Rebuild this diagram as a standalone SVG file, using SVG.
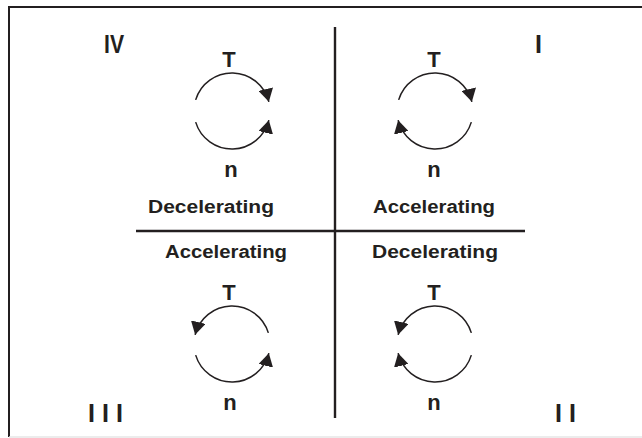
<svg xmlns="http://www.w3.org/2000/svg" width="642" height="438" viewBox="0 0 642 438">
<style>
.t{font-family:"Liberation Sans",Arial,sans-serif;font-weight:bold;fill:#231f20}
.lbl{font-size:17.5px;text-anchor:middle}
.tn{font-size:22px;text-anchor:middle}
.rn{font-size:25px}
.arc{fill:none;stroke:#231f20;stroke-width:1.5}
.div{stroke:#231f20;stroke-width:2.4}
</style>
<defs>
<marker id="ah" markerUnits="userSpaceOnUse" markerWidth="13" markerHeight="15" viewBox="0 0 13 15" refX="13" refY="7.5" orient="auto">
<path d="M0,0 L13,7.5 L0,15 z" fill="#231f20"/>
</marker>
</defs>
<rect width="642" height="438" fill="#fff"/>
<g id="frame">
<path d="M9,7 H642 M9,6 V437" stroke="#231f20" stroke-width="2" fill="none"/>
<path d="M9,437 H642" stroke="#e6e6e6" stroke-width="1.5"/>
</g>
<g id="connectors">
<line class="div" x1="335" y1="27" x2="335" y2="418"/>
<line class="div" x1="136" y1="231" x2="525" y2="231"/>
</g>
<g id="q4">
<text class="t rn" x="104" y="53" textLength="20" lengthAdjust="spacingAndGlyphs">IV</text>
<text class="t tn" x="229" y="67">T</text>
<path class="arc" d="M195.66,99.89 A38,38 0 0 1 268.87,101.81" marker-end="url(#ah)"/>
<path class="arc" d="M195.66,122.11 A38,38 0 0 0 268.87,120.19" marker-end="url(#ah)"/>
<text class="t tn" x="231" y="177">n</text>
<text class="t lbl" x="211" y="213" textLength="126" lengthAdjust="spacingAndGlyphs">Decelerating</text>
</g>
<g id="q1">
<text class="t rn" x="535" y="53">I</text>
<text class="t tn" x="434" y="67">T</text>
<path class="arc" d="M398.66,99.89 A38,38 0 0 1 471.87,101.81" marker-end="url(#ah)"/>
<path class="arc" d="M471.34,122.11 A38,38 0 0 1 398.13,120.19" marker-end="url(#ah)"/>
<text class="t tn" x="434" y="177">n</text>
<text class="t lbl" x="434" y="213" textLength="122" lengthAdjust="spacingAndGlyphs">Accelerating</text>
</g>
<g id="q3">
<text class="t rn" x="88" y="422" letter-spacing="7">III</text>
<text class="t lbl" x="226" y="258" textLength="122" lengthAdjust="spacingAndGlyphs">Accelerating</text>
<text class="t tn" x="229" y="300">T</text>
<path class="arc" d="M268.34,332.89 A38,38 0 0 0 195.13,334.81" marker-end="url(#ah)"/>
<path class="arc" d="M195.66,355.11 A38,38 0 0 0 268.87,353.19" marker-end="url(#ah)"/>
<text class="t tn" x="230" y="410">n</text>
</g>
<g id="q2">
<text class="t rn" x="555" y="422" letter-spacing="7">II</text>
<text class="t lbl" x="435" y="258" textLength="126" lengthAdjust="spacingAndGlyphs">Decelerating</text>
<text class="t tn" x="434" y="300">T</text>
<path class="arc" d="M471.34,332.89 A38,38 0 0 0 398.13,334.81" marker-end="url(#ah)"/>
<path class="arc" d="M471.34,355.11 A38,38 0 0 1 398.13,353.19" marker-end="url(#ah)"/>
<text class="t tn" x="434" y="410">n</text>
</g>
</svg>
